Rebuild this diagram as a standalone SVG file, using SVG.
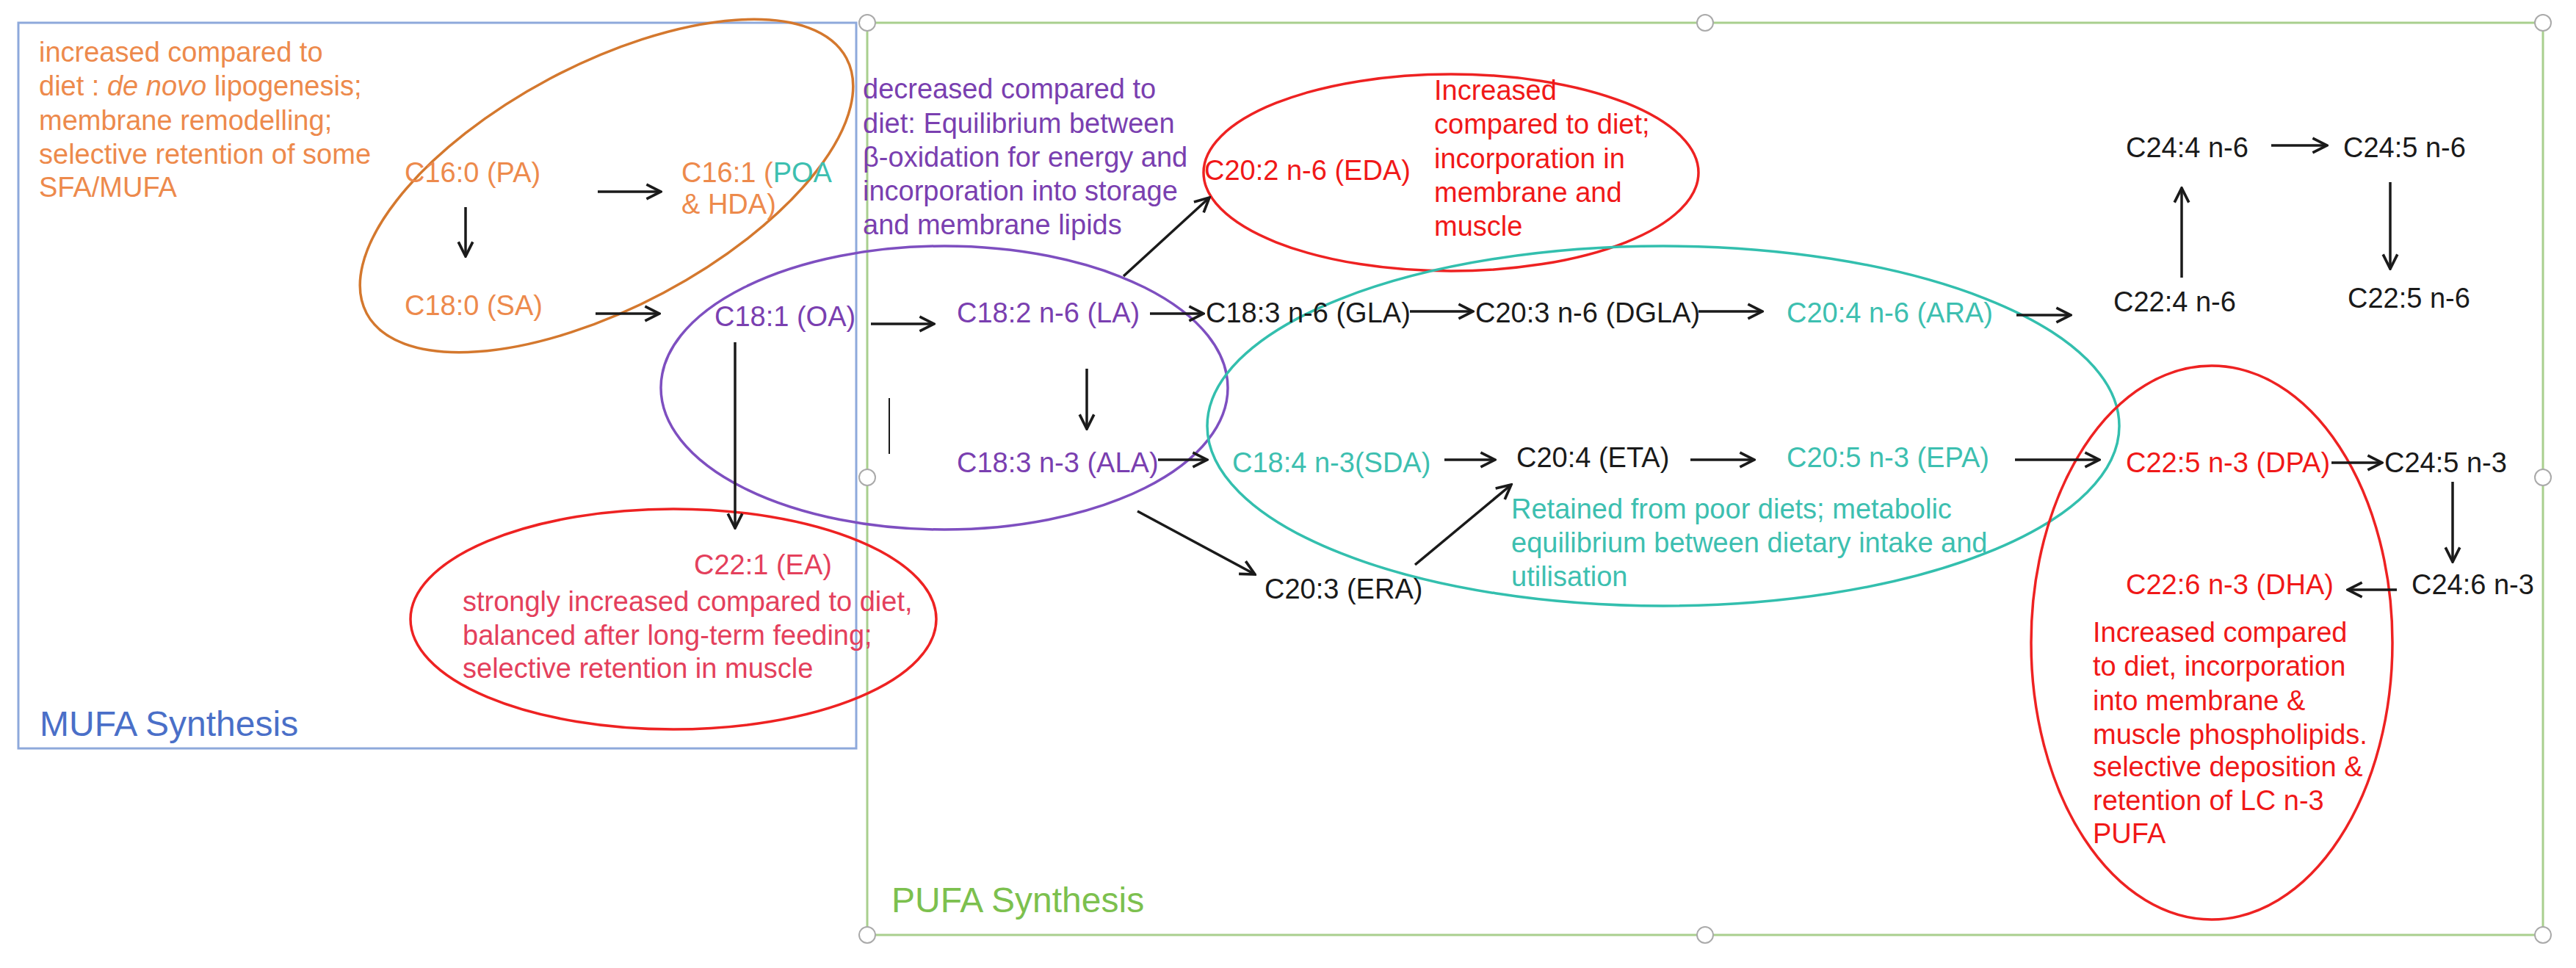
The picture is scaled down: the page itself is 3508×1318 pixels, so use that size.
<svg xmlns="http://www.w3.org/2000/svg" width="3508" height="1318" viewBox="0 0 3508 1318">
<style>
text{font-family:"Liberation Sans",Arial,sans-serif;font-size:38px}
.or{fill:#ed8a4c}.pu{fill:#7a3fb0}.te{fill:#3dbfb0}.rd{fill:#f01818}.bk{fill:#1a1a1a}.cr{fill:#e4405c}
.ar{stroke:#1a1a1a;stroke-width:3.5;fill:none;marker-end:url(#ah)}
.h{fill:#fff;stroke:#aaa;stroke-width:2}
</style>
<defs><marker id="ah" viewBox="0 0 20 20" refX="18" refY="10" markerWidth="7" markerHeight="7" markerUnits="strokeWidth" orient="auto"><path d="M2,2 L18,10 L2,18" fill="none" stroke="#1a1a1a" stroke-width="3"/></marker></defs>
<rect width="3508" height="1318" fill="#fff"/>
<g id="mufa-box"><rect x="25" y="31" width="1141" height="988" fill="none" stroke="#8ea9db" stroke-width="3"/><text x="54" y="1002" style="font-size:48px" fill="#4a6fc8">MUFA Synthesis</text></g>
<g id="pufa-box"><rect x="1181" y="31" width="2282" height="1242" fill="none" stroke="#a9cf8e" stroke-width="3"/><text x="1214" y="1242" style="font-size:48px" fill="#7cc04e">PUFA Synthesis</text>
<circle class="h" cx="1181" cy="31" r="11"/><circle class="h" cx="2322" cy="31" r="11"/><circle class="h" cx="3463" cy="31" r="11"/><circle class="h" cx="1181" cy="650" r="11"/><circle class="h" cx="3463" cy="650" r="11"/><circle class="h" cx="1181" cy="1273" r="11"/><circle class="h" cx="2322" cy="1273" r="11"/><circle class="h" cx="3463" cy="1273" r="11"/></g>
<g id="ellipses" fill="none" stroke-width="3.5">
<ellipse cx="826" cy="253" rx="370" ry="165" transform="rotate(-28 826 253)" stroke="#d4782e"/>
<ellipse cx="1286" cy="528" rx="386" ry="193" stroke="#7e4fc0"/>
<ellipse cx="1976" cy="235" rx="337" ry="134" stroke="#ee2222"/>
<ellipse cx="2265" cy="580" rx="621" ry="245" stroke="#33bfae"/>
<ellipse cx="3012" cy="875" rx="246" ry="377" stroke="#ee2222"/>
<ellipse cx="917" cy="843" rx="358" ry="150" stroke="#ee2222"/>
</g>
<g id="notes">
<text class="or" x="53" y="84">increased compared to</text>
<text class="or" x="53" y="130">diet : <tspan font-style="italic">de novo</tspan> lipogenesis;</text>
<text class="or" x="53" y="177">membrane remodelling;</text>
<text class="or" x="53" y="223">selective retention of some</text>
<text class="or" x="53" y="268">SFA/MUFA</text>
<text class="pu" x="1175" y="134">decreased compared to</text>
<text class="pu" x="1175" y="181">diet: Equilibrium between</text>
<text class="pu" x="1175" y="227">β-oxidation for energy and</text>
<text class="pu" x="1175" y="273">incorporation into storage</text>
<text class="pu" x="1175" y="319">and membrane lipids</text>
<text class="rd" x="1953" y="136">Increased</text>
<text class="rd" x="1953" y="182">compared to diet;</text>
<text class="rd" x="1953" y="229">incorporation in</text>
<text class="rd" x="1953" y="275">membrane and</text>
<text class="rd" x="1953" y="321">muscle</text>
<text class="te" x="2058" y="706">Retained from poor diets; metabolic</text>
<text class="te" x="2058" y="752">equilibrium between dietary intake and</text>
<text class="te" x="2058" y="798">utilisation</text>
<text class="cr" x="630" y="832">strongly increased compared to diet,</text>
<text class="cr" x="630" y="878">balanced after long-term feeding;</text>
<text class="cr" x="630" y="923">selective retention in muscle</text>
<text class="rd" x="2850" y="874">Increased compared</text>
<text class="rd" x="2850" y="920">to diet, incorporation</text>
<text class="rd" x="2850" y="967">into membrane &amp;</text>
<text class="rd" x="2850" y="1013">muscle phospholipids.</text>
<text class="rd" x="2850" y="1057">selective deposition &amp;</text>
<text class="rd" x="2850" y="1103">retention of LC n-3</text>
<text class="rd" x="2850" y="1148">PUFA</text>
</g>
<g id="n-pa"><text class="or" x="551" y="248">C16:0 (PA)</text></g>
<g id="n-poa"><text class="or" x="928" y="248">C16:1 (<tspan class="te">POA</tspan></text><text class="or" x="928" y="291">&amp; HDA)</text></g>
<g id="n-sa"><text class="or" x="551" y="429">C18:0 (SA)</text></g>
<g id="n-oa"><text class="pu" x="973" y="444">C18:1 (OA)</text></g>
<g id="n-la"><text class="pu" x="1303" y="439">C18:2 n-6 (LA)</text></g>
<g id="n-ala"><text class="pu" x="1303" y="643">C18:3 n-3 (ALA)</text></g>
<g id="n-eda"><text class="rd" x="1640" y="245">C20:2 n-6 (EDA)</text></g>
<g id="n-gla"><text class="bk" x="1642" y="439">C18:3 n-6 (GLA)</text></g>
<g id="n-dgla"><text class="bk" x="2009" y="439">C20:3 n-6 (DGLA)</text></g>
<g id="n-ara"><text class="te" x="2433" y="439">C20:4 n-6 (ARA)</text></g>
<g id="n-c224"><text class="bk" x="2878" y="424">C22:4 n-6</text></g>
<g id="n-c244"><text class="bk" x="2895" y="214">C24:4 n-6</text></g>
<g id="n-c245n6"><text class="bk" x="3191" y="214">C24:5 n-6</text></g>
<g id="n-c225n6"><text class="bk" x="3197" y="419">C22:5 n-6</text></g>
<g id="n-sda"><text class="te" x="1678" y="643">C18:4 n-3(SDA)</text></g>
<g id="n-eta"><text class="bk" x="2065" y="636">C20:4 (ETA)</text></g>
<g id="n-epa"><text class="te" x="2433" y="636">C20:5 n-3 (EPA)</text></g>
<g id="n-dpa"><text class="rd" x="2895" y="643">C22:5 n-3 (DPA)</text></g>
<g id="n-c245n3"><text class="bk" x="3247" y="643">C24:5 n-3</text></g>
<g id="n-c246"><text class="bk" x="3284" y="809">C24:6 n-3</text></g>
<g id="n-dha"><text class="rd" x="2895" y="809">C22:6 n-3 (DHA)</text></g>
<g id="n-era"><text class="bk" x="1722" y="815">C20:3 (ERA)</text></g>
<g id="n-ea"><text class="cr" x="945" y="782">C22:1 (EA)</text></g>
<g id="connectors">
<line class="ar" x1="814" y1="261" x2="900" y2="261"/>
<line class="ar" x1="634" y1="282" x2="634" y2="349"/>
<line class="ar" x1="811" y1="427" x2="898" y2="427"/>
<line class="ar" x1="1186" y1="441" x2="1272" y2="441"/>
<line class="ar" x1="1001" y1="466" x2="1001" y2="719"/>
<line class="ar" x1="1566" y1="427" x2="1639" y2="427"/>
<line class="ar" x1="1530" y1="376" x2="1647" y2="269"/>
<line class="ar" x1="1920" y1="424" x2="2006" y2="424"/>
<line class="ar" x1="2313" y1="424" x2="2400" y2="424"/>
<line class="ar" x1="2746" y1="429" x2="2820" y2="429"/>
<line class="ar" x1="2971" y1="378" x2="2971" y2="256"/>
<line class="ar" x1="3093" y1="198" x2="3169" y2="198"/>
<line class="ar" x1="3255" y1="248" x2="3255" y2="366"/>
<line class="ar" x1="1480" y1="502" x2="1480" y2="584"/>
<line x1="1211" y1="542" x2="1211" y2="618" stroke="#1a1a1a" stroke-width="2"/>
<line class="ar" x1="1577" y1="626" x2="1644" y2="626"/>
<line class="ar" x1="1967" y1="626" x2="2036" y2="626"/>
<line class="ar" x1="2302" y1="626" x2="2389" y2="626"/>
<line class="ar" x1="2744" y1="626" x2="2859" y2="626"/>
<line class="ar" x1="3175" y1="630" x2="3244" y2="630"/>
<line class="ar" x1="3340" y1="656" x2="3340" y2="765"/>
<line class="ar" x1="3264" y1="803" x2="3197" y2="803"/>
<line class="ar" x1="1549" y1="696" x2="1709" y2="782"/>
<line class="ar" x1="1927" y1="769" x2="2058" y2="660"/>
</g>
</svg>
